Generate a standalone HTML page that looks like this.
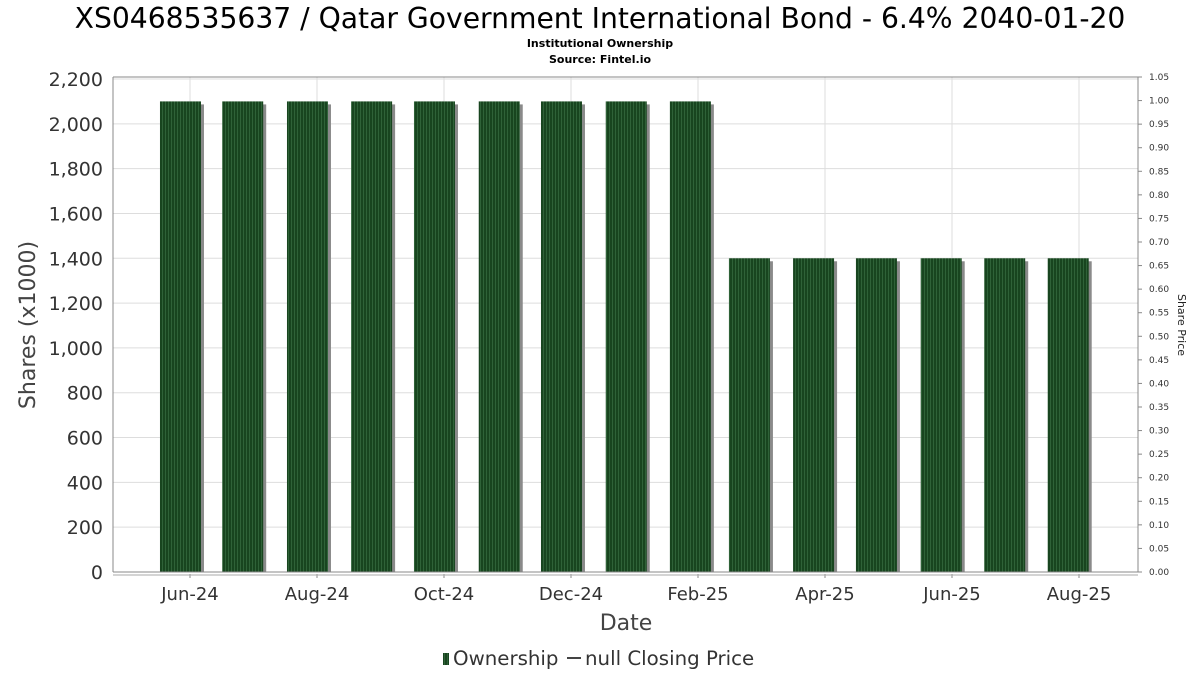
<!DOCTYPE html>
<html><head><meta charset="utf-8">
<style>
body{margin:0;background:#fff;font-family:"DejaVu Sans","Liberation Sans",sans-serif;}
svg text{font-family:"DejaVu Sans","Liberation Sans",sans-serif;}
</style></head>
<body>
<svg id="c" width="1200" height="675" xmlns="http://www.w3.org/2000/svg">
<defs>
<pattern id="stripe" width="3" height="10" patternUnits="userSpaceOnUse">
<rect width="3" height="10" fill="#18451f"/>
<rect width="1" height="10" fill="#2f6238"/>
</pattern>
</defs>
<text x="600" y="28" font-size="28.2" text-anchor="middle" fill="#000">XS0468535637 / Qatar Government International Bond - 6.4% 2040-01-20</text>
<text x="600" y="47" font-size="11" font-weight="bold" text-anchor="middle">Institutional Ownership</text>
<text x="600" y="63" font-size="11" font-weight="bold" text-anchor="middle">Source: Fintel.io</text>
<g id="grid"></g>
<g id="bars"></g>
<g id="axes"></g>
<text x="0" y="0" font-size="22" fill="#444" text-anchor="middle" transform="translate(35,325) rotate(-90)">Shares (x1000)</text>
<text x="0" y="0" font-size="11" fill="#222" text-anchor="middle" transform="translate(1178,325) rotate(90)">Share Price</text>
<text x="626" y="630" font-size="22" fill="#444" text-anchor="middle">Date</text>
<g>
<rect x="443" y="653" width="6" height="12" fill="url(#stripe)"/>
<text x="453" y="665" font-size="19.8" fill="#333">Ownership</text>
<line x1="567" y1="658" x2="581" y2="658" stroke="#444" stroke-width="2"/>
<text x="585" y="665" font-size="19.8" fill="#333">null Closing Price</text>
</g>
</svg>
<script>
const barMonths=[-0.15,0.83,1.85,2.86,3.85,4.87,5.85,6.87,7.88,8.81,9.82,10.81,11.83,12.83,13.83];
const barValues=[2100,2100,2100,2100,2100,2100,2100,2100,2100,1400,1400,1400,1400,1400,1400];
const yTicks=[0,200,400,600,800,1000,1200,1400,1600,1800,2000,2200];
const xTickMonths=[0,2,4,6,8,10,12,14];
const xTickLabels=["Jun-24","Aug-24","Oct-24","Dec-24","Feb-25","Apr-25","Jun-25","Aug-25"];
const y2Ticks=[0,0.05,0.1,0.15,0.2,0.25,0.3,0.35,0.4,0.45,0.5,0.55,0.6,0.65,0.7,0.75,0.8,0.85,0.9,0.95,1.0,1.05];

const L=113,R=1138,T=77,B=572;
const xs=m=>190+m*63.5;
const ys=v=>B-v/2200*(B-79);
const y2s=v=>B-v/1.05*(B-T);
const NS="http://www.w3.org/2000/svg";
function mk(tag,attrs,parent,txt){const e=document.createElementNS(NS,tag);for(const k in attrs)e.setAttribute(k,attrs[k]);if(txt!==undefined)e.textContent=txt;parent.appendChild(e);return e;}
const grid=document.getElementById('grid'),bars=document.getElementById('bars'),axes=document.getElementById('axes');
mk('rect',{x:L,y:T,width:R-L,height:B-T,fill:'#fff',stroke:'none'},grid);
yTicks.forEach(v=>{
 const l=mk('line',{x1:L,x2:R,y1:ys(v),y2:ys(v),stroke:'#ddd'},grid);
 
 
 const t=mk('text',{x:103,y:ys(v)+7,'font-size':19,'text-anchor':'end',fill:'#333'},axes,v.toLocaleString('en-US'));
 
 
});
xTickMonths.forEach((m,i)=>{
 const l=mk('line',{x1:xs(m),x2:xs(m),y1:T,y2:B,stroke:'#ddd'},grid);
 
 
 mk('line',{x1:xs(m),x2:xs(m),y1:574,y2:578,stroke:'#888'},axes);
 const t=mk('text',{x:xs(m),y:600,'font-size':18,'text-anchor':'middle',fill:'#333'},axes,xTickLabels[i]);
 
 
});
y2Ticks.forEach(v=>{
 mk('line',{x1:R,x2:R+4,y1:y2s(v),y2:y2s(v),stroke:'#888'},axes);
 const t=mk('text',{x:1149,y:y2s(v)+3,'font-size':9,fill:'#333'},axes,v.toFixed(2));
 
 
});
barMonths.forEach((m,i)=>{
 const cx=xs(m),w=41,top=ys(barValues[i]);
 mk('rect',{x:cx-w/2+3,y:top+3,width:w,height:B-top-3,fill:'#8a8a8a'},bars);
 const b=mk('rect',{x:cx-w/2,y:top,width:w,height:B-top,fill:'url(#stripe)'},bars);
 
 
});
mk('line',{x1:L,x2:R,y1:T,y2:T,stroke:'#888'},axes);
mk('line',{x1:L,x2:L,y1:T,y2:B,stroke:'#888'},axes);
mk('line',{x1:R,x2:R,y1:T,y2:B,stroke:'#888'},axes);
mk('line',{x1:L,x2:R,y1:B,y2:B,stroke:'#888'},axes);
mk('line',{x1:L,x2:R,y1:575,y2:575,stroke:'#aaa'},axes);
</script>
</body></html>
